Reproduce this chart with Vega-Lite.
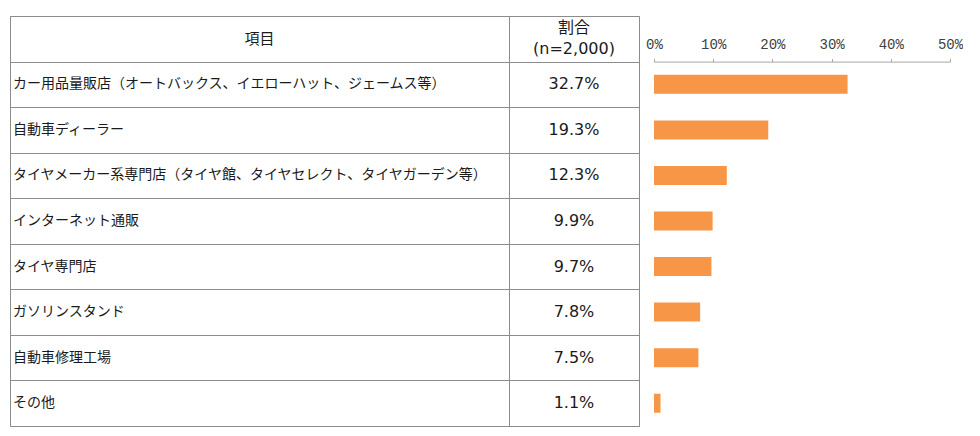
{
  "$schema": "https://vega.github.io/schema/vega-lite/v6.json",
  "padding": {"left": 9, "top": 15, "right": 0, "bottom": 0},
  "background": "white",
  "config": {"view": {"stroke": null}},
  "datasets": {
    "items": [
      {"row": 1, "item": "カー用品量販店（オートバックス、イエローハット、ジェームス等）", "pct": 0.327},
      {"row": 2, "item": "自動車ディーラー", "pct": 0.193},
      {"row": 3, "item": "タイヤメーカー系専門店（タイヤ館、タイヤセレクト、タイヤガーデン等）", "pct": 0.123},
      {"row": 4, "item": "インターネット通販", "pct": 0.099},
      {"row": 5, "item": "タイヤ専門店", "pct": 0.097},
      {"row": 6, "item": "ガソリンスタンド", "pct": 0.078},
      {"row": 7, "item": "自動車修理工場", "pct": 0.075},
      {"row": 8, "item": "その他", "pct": 0.011}
    ]
  },
  "spacing": 0,
  "bounds": "flush",
  "hconcat": [
    {
      "width": 499,
      "height": 410,
      "view": {"stroke": "#8c8c8c", "strokeWidth": 1},
      "layer": [
        {
          "data": {"name": "items"},
          "mark": {"type": "text", "align": "left", "baseline": "middle", "dx": 3, "font": "Noto Sans CJK JP", "fontSize": 14, "color": "#1a1a1a"},
          "encoding": {
            "x": {"datum": 0, "type": "quantitative", "scale": {"domain": [0, 1]}, "axis": null},
            "y": {"field": "row", "type": "ordinal", "scale": {"domain": [0, 1, 2, 3, 4, 5, 6, 7, 8], "paddingInner": 0, "paddingOuter": 0},
              "axis": {"labels": false, "ticks": false, "domain": false, "grid": true, "gridColor": "#8c8c8c", "gridWidth": 1, "tickBand": "extent", "title": null, "minExtent": 0, "maxExtent": 0}},
            "text": {"field": "item"}
          }
        },
        {
          "data": {"values": [{"row": 0, "label": "項目"}]},
          "mark": {"type": "text", "align": "center", "baseline": "middle", "font": "Noto Sans CJK JP", "fontSize": 15, "color": "#1a1a1a"},
          "encoding": {
            "y": {"field": "row", "type": "ordinal"},
            "text": {"field": "label"}
          }
        }
      ]
    },
    {
      "width": 130,
      "height": 410,
      "view": {"stroke": "#8c8c8c", "strokeWidth": 1},
      "layer": [
        {
          "data": {"name": "items"},
          "mark": {"type": "text", "align": "center", "baseline": "middle", "font": "DejaVu Sans", "fontSize": 16, "color": "#1a1a1a"},
          "encoding": {
            "y": {"field": "row", "type": "ordinal", "scale": {"domain": [0, 1, 2, 3, 4, 5, 6, 7, 8], "paddingInner": 0, "paddingOuter": 0},
              "axis": {"labels": false, "ticks": false, "domain": false, "grid": true, "gridColor": "#8c8c8c", "gridWidth": 1, "tickBand": "extent", "title": null, "minExtent": 0, "maxExtent": 0}},
            "text": {"field": "pct", "type": "quantitative", "format": ".1%"}
          }
        },
        {
          "data": {"values": [{"row": 0}]},
          "mark": {"type": "text", "align": "center", "baseline": "middle", "dy": -10.5, "font": "DejaVu Sans, Noto Sans CJK JP", "fontSize": 16, "lineHeight": 21, "color": "#1a1a1a", "text": ["割合", "(n=2,000)"]},
          "encoding": {
            "y": {"field": "row", "type": "ordinal"}
          }
        }
      ]
    },
    {
      "width": 311,
      "height": 410,
      "data": {"name": "items"},
      "mark": {"type": "bar", "color": "#F79646", "size": 19},
      "encoding": {
        "x": {"field": "pct", "type": "quantitative", "scale": {"domain": [0, 0.5], "range": [15, 311]},
          "axis": {"orient": "top", "offset": -45.6, "values": [0, 0.1, 0.2, 0.3, 0.4, 0.5], "format": ".0%", "grid": false, "domainColor": "#a6a6a6", "tickColor": "#a6a6a6", "tickSize": 3, "labelFont": "Liberation Mono", "labelFontSize": 14, "labelColor": "#404040", "labelPadding": 7, "title": null, "labelFlush": false}},
        "y": {"field": "row", "type": "ordinal", "scale": {"domain": [0, 1, 2, 3, 4, 5, 6, 7, 8], "paddingInner": 0, "paddingOuter": 0}, "axis": null}
      }
    }
  ]
}
